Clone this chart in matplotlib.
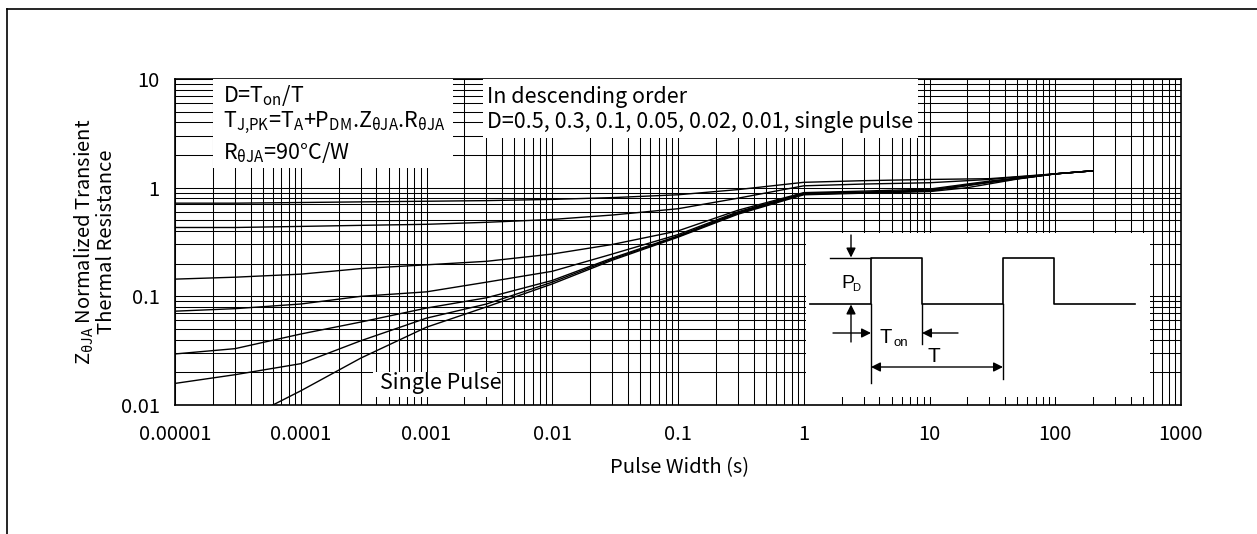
import matplotlib
matplotlib.use("Agg")
import matplotlib.pyplot as plt
from matplotlib.patches import Rectangle
from matplotlib.lines import Line2D
from matplotlib.ticker import LogLocator, NullFormatter

plt.rcParams['font.family'] = ['Noto Sans CJK JP', 'DejaVu Sans']
plt.rcParams['mathtext.fontset'] = 'custom'
plt.rcParams['mathtext.rm'] = 'Noto Sans CJK JP'

W, H = 1257, 534

# pulse width (s)
t = [0.00001, 0.00003, 0.0001, 0.0003, 0.001, 0.003, 0.01, 0.03,
     0.1, 0.3, 1, 3, 10, 30, 100, 200]
# normalized transient thermal resistance, one list per duty cycle
z_d050 = [0.72, 0.72, 0.73, 0.74, 0.75, 0.76, 0.78, 0.81,
          0.86, 0.96, 1.12, 1.16, 1.19, 1.21, 1.34, 1.43]
z_d030 = [0.43, 0.43, 0.44, 0.45, 0.46, 0.48, 0.51, 0.56,
          0.64, 0.80, 1.04, 1.08, 1.11, 1.19, 1.34, 1.43]
z_d010 = [0.144, 0.150, 0.160, 0.180, 0.195, 0.21, 0.245, 0.30,
          0.40, 0.62, 0.90, 0.93, 0.97, 1.15, 1.34, 1.43]
z_d005 = [0.073, 0.077, 0.085, 0.100, 0.110, 0.135, 0.17, 0.245,
          0.37, 0.60, 0.89, 0.91, 0.95, 1.13, 1.34, 1.43]
z_d002 = [0.0295, 0.033, 0.045, 0.058, 0.078, 0.097, 0.14, 0.225,
          0.36, 0.59, 0.88, 0.90, 0.94, 1.12, 1.34, 1.43]
z_d001 = [0.0158, 0.019, 0.024, 0.039, 0.063, 0.085, 0.135, 0.22,
          0.355, 0.58, 0.87, 0.90, 0.93, 1.12, 1.34, 1.43]
t_single = [0.00006, 0.0001, 0.0003, 0.001, 0.003, 0.01, 0.03,
            0.1, 0.3, 1, 3, 10, 20, 50, 100, 200]
z_single = [0.01, 0.0135, 0.027, 0.052, 0.08, 0.13, 0.215,
            0.35, 0.57, 0.86, 0.89, 0.92, 1.0, 1.2, 1.34, 1.43]

x_ticks = [0.00001, 0.0001, 0.001, 0.01, 0.1, 1, 10, 100, 1000]
x_tick_labels = ['0.00001', '0.0001', '0.001', '0.01', '0.1', '1', '10', '100', '1000']
y_ticks = [0.01, 0.1, 1, 10]
y_tick_labels = ['0.01', '0.1', '1', '10']


def fx(px):
    return px / W


def fy(py):
    return 1 - py / H


fig = plt.figure(figsize=(W / 100, H / 100), dpi=100)

# outer frame (cut off at right and bottom)
fig.add_artist(Line2D([fx(7), 1], [fy(9), fy(9)], color='black', lw=1.2, transform=fig.transFigure))
fig.add_artist(Line2D([fx(7), fx(7)], [fy(9), 0], color='black', lw=1.2, transform=fig.transFigure))

ax = fig.add_axes([fx(175), fy(405), (1181 - 175) / W, (405 - 79) / H])
ax.set_xscale('log')
ax.set_yscale('log')
ax.set_xlim(1e-5, 1000)
ax.set_ylim(0.01, 10)
ax.xaxis.set_minor_locator(LogLocator(base=10, subs=range(2, 10), numticks=20))
ax.yaxis.set_minor_locator(LogLocator(base=10, subs=range(2, 10), numticks=20))
ax.xaxis.set_minor_formatter(NullFormatter())
ax.yaxis.set_minor_formatter(NullFormatter())
ax.set_xticks(x_ticks, x_tick_labels)
ax.set_yticks(y_ticks, y_tick_labels)
ax.tick_params(which='both', length=0, labelsize=14.5, colors='black')
ax.tick_params(axis='x', pad=14)
ax.tick_params(axis='y', pad=11)
ax.grid(which='both', color='black', lw=0.75)
for s in ax.spines.values():
    s.set_linewidth(1.2)

for z in [z_d050, z_d030, z_d010, z_d005, z_d002, z_d001]:
    ax.plot(t, z, color='black', lw=1.0)
ax.plot(t_single, z_single, color='black', lw=1.0)

fig.text(fx(680), fy(468), 'Pulse Width (s)', ha='center', va='center', fontsize=14.5)
fig.text(fx(95), fy(242), 'Z$_\\mathregular{θJA}$ Normalized Transient\nThermal Resistance',
         ha='center', va='center', rotation=90, fontsize=14.5, linespacing=1.0)

# white note boxes over the grid
for x0, y0, x1, y1 in [(213, 79, 453, 168), (483, 79, 918, 138), (373, 372, 497, 397)]:
    fig.add_artist(Rectangle((fx(x0), fy(y1)), (x1 - x0) / W, (y1 - y0) / H,
                             transform=fig.transFigure, facecolor='white', edgecolor='none', zorder=5))

fs = 15.5
fig.text(fx(223), fy(102), 'D=T$_\\mathregular{on}$/T', fontsize=fs, va='baseline', zorder=6)
fig.text(fx(223), fy(127), 'T$_\\mathregular{J{,}PK}$=T$_\\mathregular{A}$+P$_\\mathregular{DM}$.Z$_\\mathregular{θJA}$.R$_\\mathregular{θJA}$',
         fontsize=fs, va='baseline', zorder=6)
fig.text(fx(223), fy(159), 'R$_\\mathregular{θJA}$=90°C/W', fontsize=fs, va='baseline', zorder=6)
fig.text(fx(487), fy(103), 'In descending order', fontsize=fs, va='baseline', zorder=6)
fig.text(fx(487), fy(128), 'D=0.5, 0.3, 0.1, 0.05, 0.02, 0.01, single pulse', fontsize=fs,
         va='baseline', zorder=6)
fig.text(fx(380), fy(389), 'Single Pulse', fontsize=fs, va='baseline', zorder=6)

# pulse train sketch, drawn in pixel units of the figure
bx0, by0, bx1, by1 = 806, 233, 1150, 397
ax_in = fig.add_axes([fx(bx0), fy(by1), (bx1 - bx0) / W, (by1 - by0) / H])
ax_in.set_xlim(bx0, bx1)
ax_in.set_ylim(by1, by0)
ax_in.set_xticks([])
ax_in.set_yticks([])
for s in ax_in.spines.values():
    s.set_visible(False)
ax_in.set_facecolor('white')

lo, hi = 303.5, 257.5
ax_in.plot([810, 871, 871, 922, 922, 1003, 1003, 1054, 1054, 1135],
           [lo, lo, hi, hi, lo, lo, hi, hi, lo, lo], color='black', lw=1.2)
ax_in.plot([830, 871], [hi, hi], color='black', lw=1.0)
ax_in.plot([871, 871], [lo, 383], color='black', lw=1.0)
ax_in.plot([922, 922], [lo, 344], color='black', lw=1.0)
ax_in.plot([1003, 1003], [lo, 379], color='black', lw=1.0)
arr = dict(arrowstyle='-|>', color='black', lw=1.0, mutation_scale=14, shrinkA=0, shrinkB=0)
ax_in.annotate('', xy=(851, hi), xytext=(851, 235), arrowprops=arr)
ax_in.annotate('', xy=(851, lo + 1), xytext=(851, 342), arrowprops=arr)
ax_in.annotate('', xy=(871, 333), xytext=(833, 333), arrowprops=arr)
ax_in.annotate('', xy=(922, 333), xytext=(958, 333), arrowprops=arr)
ax_in.annotate('', xy=(871, 367), xytext=(1003, 367),
               arrowprops=dict(arrowstyle='<|-|>', color='black', lw=1.0, mutation_scale=14,
                               shrinkA=0, shrinkB=0))
sk = dict(family='Liberation Sans', color='black')
ax_in.text(841, 288, 'P', fontsize=14, va='baseline', **sk)
ax_in.text(852, 291, 'D', fontsize=8, va='baseline', **sk)
ax_in.text(879, 343, 'T', fontsize=14.5, va='baseline', **sk)
ax_in.text(893, 346, 'on', fontsize=9.5, va='baseline', **sk)
ax_in.text(927, 362, 'T', fontsize=15, va='baseline', **sk)

fig.savefig('out.png', dpi=100, facecolor='white')
